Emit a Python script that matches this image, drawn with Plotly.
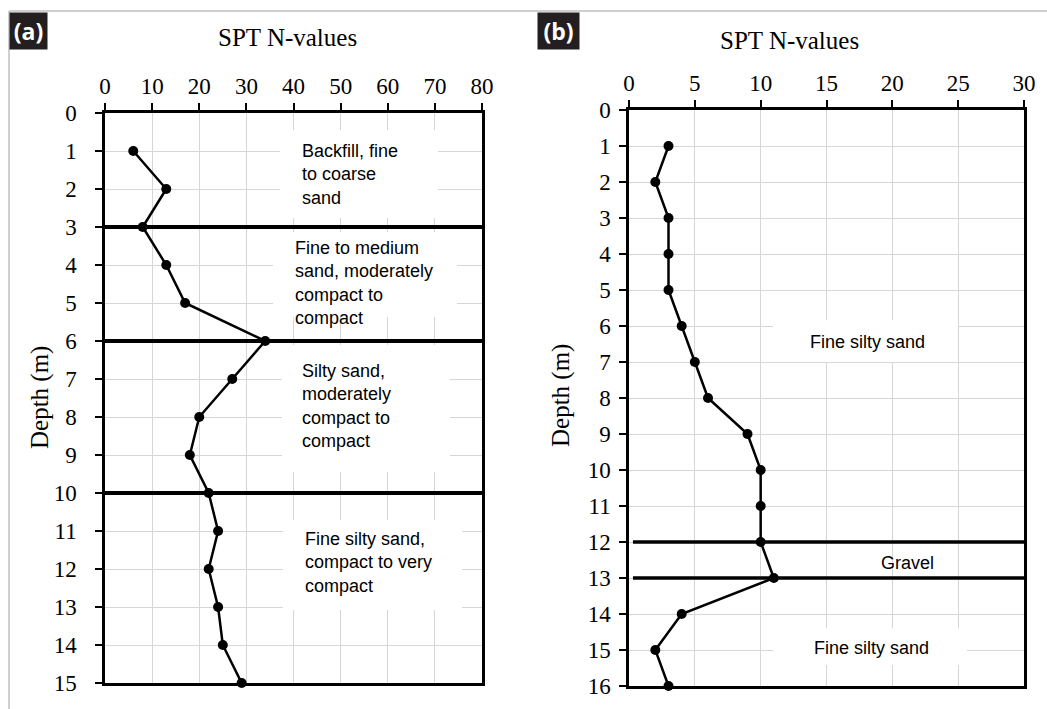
import plotly.graph_objects as go

# ---------------- data ----------------
depth_a = [1, 2, 3, 4, 5, 6, 7, 8, 9, 10, 11, 12, 13, 14, 15]
spt_a = [6, 13, 8, 13, 17, 34, 27, 20, 18, 22, 24, 22, 24, 25, 29]
layers_a = [3, 6, 10]

depth_b = [1, 2, 3, 4, 5, 6, 7, 8, 9, 10, 11, 12, 13, 14, 15, 16]
spt_b = [3, 2, 3, 3, 3, 4, 5, 6, 9, 10, 10, 10, 11, 4, 2, 3]
layers_b = [12, 13]

xticks_a = [0, 10, 20, 30, 40, 50, 60, 70, 80]
xticks_b = [0, 5, 10, 15, 20, 25, 30]
yticks_a = list(range(0, 16))
yticks_b = list(range(0, 17))

labels_a = ["Backfill, fine<br>to coarse<br>sand",
            "Fine to medium<br>sand, moderately<br>compact to<br>compact",
            "Silty sand,<br>moderately<br>compact to<br>compact",
            "Fine silty sand,<br>compact to very<br>compact"]
labels_b = ["Fine silty sand", "Gravel", "Fine silty sand"]

# ---------------- layout geometry (pixels) ----------------
W, H = 1047, 709
A_X0, A_X1, A_Y0, A_Y1 = 105, 482, 113, 683
B_X0, B_X1, B_Y0, B_Y1 = 629, 1024, 110, 686
XMAX_A, YMAX_A = 80, 15
XMAX_B, YMAX_B = 30, 16

def px(x):
    return x / W

def py(y):
    return 1 - y / H

TICKFONT = dict(family="Liberation Serif, Times New Roman, serif", size=23, color="black")
TITLEFONT = dict(family="Liberation Serif, Times New Roman, serif", size=25, color="black")
TXTFONT = dict(family="Liberation Sans, Arial, sans-serif", size=18, color="black")
GRID = "#d6d6d6"

fig = go.Figure()

# white label boxes (pixel rectangles -> data space of each panel)
def box_trace(x0, y0, x1, y1, panel):
    if panel == "a":
        X0, X1, Y0, Y1, XM, YM, xa, ya = A_X0, A_X1, A_Y0, A_Y1, XMAX_A, YMAX_A, "x", "y"
    else:
        X0, X1, Y0, Y1, XM, YM, xa, ya = B_X0, B_X1, B_Y0, B_Y1, XMAX_B, YMAX_B, "x2", "y2"
    dx0 = (x0 - X0) / (X1 - X0) * XM
    dx1 = (x1 - X0) / (X1 - X0) * XM
    dy0 = (y0 - Y0) / (Y1 - Y0) * YM
    dy1 = (y1 - Y0) / (Y1 - Y0) * YM
    return go.Scatter(x=[dx0, dx1, dx1, dx0, dx0], y=[dy0, dy0, dy1, dy1, dy0],
                      mode="lines", fill="toself", fillcolor="white",
                      line=dict(width=0, color="white"), xaxis=xa, yaxis=ya,
                      showlegend=False, hoverinfo="skip")

for rect in [(280, 130, 438, 218), (273, 232, 457, 317),
             (282, 345, 450, 472), (283, 520, 462, 610)]:
    fig.add_trace(box_trace(*rect, "a"))
for rect in [(773, 320, 958, 362), (773, 628, 967, 665)]:
    fig.add_trace(box_trace(*rect, "b"))

# layer boundary lines
for d in layers_a:
    fig.add_trace(go.Scatter(x=[0, XMAX_A], y=[d, d], mode="lines",
                             line=dict(color="black", width=4),
                             xaxis="x", yaxis="y", showlegend=False, hoverinfo="skip"))
for d in layers_b:
    fig.add_trace(go.Scatter(x=[0.3, XMAX_B], y=[d, d], mode="lines",
                             line=dict(color="black", width=3.5),
                             xaxis="x2", yaxis="y2", showlegend=False, hoverinfo="skip"))

# SPT profiles
fig.add_trace(go.Scatter(x=spt_a, y=depth_a, mode="lines+markers",
                         line=dict(color="black", width=2.5),
                         marker=dict(color="black", size=10),
                         xaxis="x", yaxis="y", showlegend=False, cliponaxis=False))
fig.add_trace(go.Scatter(x=spt_b, y=depth_b, mode="lines+markers",
                         line=dict(color="black", width=2.5),
                         marker=dict(color="black", size=10),
                         xaxis="x2", yaxis="y2", showlegend=False, cliponaxis=False))

def xaxis_cfg(domain, rng, ticks, anchor):
    return dict(domain=domain, range=rng, side="top", tickvals=ticks, anchor=anchor,
                ticks="outside", ticklen=7, tickwidth=2, tickcolor="black",
                showline=True, linecolor="black", linewidth=2.5, mirror=True,
                showgrid=True, gridcolor=GRID, gridwidth=1, zeroline=False,
                tickfont=TICKFONT, automargin=False, ticklabelstandoff=0)

def yaxis_cfg(domain, rng, ticks, anchor, standoff):
    return dict(domain=domain, range=rng, tickvals=ticks, anchor=anchor,
                ticks="outside", ticklen=7, tickwidth=2, tickcolor="black",
                showline=True, linecolor="black", linewidth=2.5, mirror=True,
                showgrid=True, gridcolor=GRID, gridwidth=1, zeroline=False,
                tickfont=TICKFONT, automargin=False, ticklabelstandoff=standoff)

shapes = [
    dict(type="line", xref="paper", yref="paper", x0=px(9), x1=1, y0=py(11), y1=py(11),
         line=dict(color="#cfcfcf", width=2)),
    dict(type="line", xref="paper", yref="paper", x0=px(9), x1=px(9), y0=py(11), y1=0,
         line=dict(color="#cfcfcf", width=2)),
]

annotations = []
for txt, (x, y) in zip(labels_a, [(300, 174), (293, 283), (300, 406), (303, 562)]):
    annotations.append(dict(text=txt, x=px(x), y=py(y), xref="paper", yref="paper",
                            xanchor="left", yanchor="middle", align="left",
                            showarrow=False, font=TXTFONT))
for txt, (x, y) in zip(labels_b, [(867, 342), (907, 563), (871, 648)]):
    annotations.append(dict(text=txt, x=px(x), y=py(y), xref="paper", yref="paper",
                            xanchor="center", yanchor="middle", align="center",
                            showarrow=False, font=TXTFONT))

for x, y in [(287, 37), (789, 40)]:
    annotations.append(dict(text="SPT N-values", x=px(x), y=py(y), xref="paper", yref="paper",
                            xanchor="center", yanchor="middle", showarrow=False, font=TITLEFONT))
for x, y in [(40, 398), (561, 396)]:
    annotations.append(dict(text="Depth (m)", x=px(x), y=py(y), xref="paper", yref="paper",
                            xanchor="center", yanchor="middle", textangle=-90,
                            showarrow=False, font=TITLEFONT))

for txt, x0, w in [("(a)", 9, 37), ("(b)", 537, 41)]:
    annotations.append(dict(text="<b>%s</b>" % txt, x=px(x0), y=py(12), xref="paper", yref="paper",
                            xanchor="left", yanchor="top", showarrow=False,
                            width=w, height=36, bgcolor="#231f20", borderpad=0,
                            font=dict(family="Open Sans, Lato, sans-serif", size=23, color="white")))

fig.update_layout(
    width=W, height=H,
    margin=dict(l=0, r=0, t=0, b=0),
    paper_bgcolor="white", plot_bgcolor="white",
    xaxis=xaxis_cfg([px(A_X0), px(A_X1)], [0, XMAX_A], xticks_a, "y"),
    yaxis=yaxis_cfg([py(A_Y1), py(A_Y0)], [YMAX_A, 0], yticks_a, "x", 14),
    xaxis2=xaxis_cfg([px(B_X0), px(B_X1)], [0, XMAX_B], xticks_b, "y2"),
    yaxis2=yaxis_cfg([py(B_Y1), py(B_Y0)], [YMAX_B, 0], yticks_b, "x2", 4),
    shapes=shapes,
    annotations=annotations,
    showlegend=False,
)

fig.write_html("out.html")
